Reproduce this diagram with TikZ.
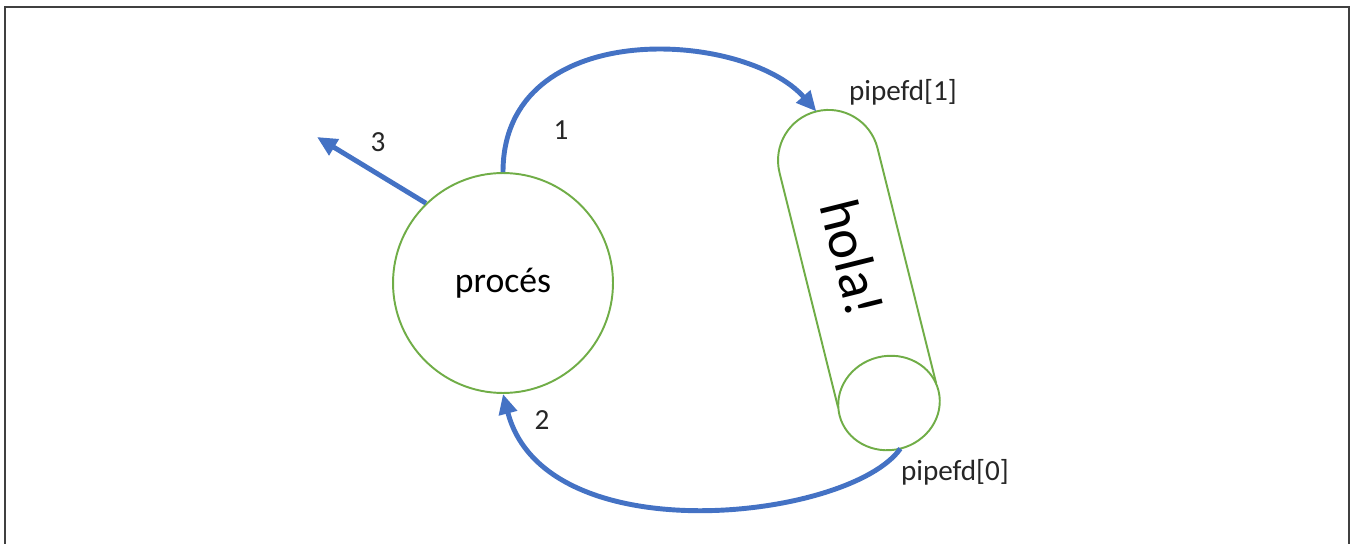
\documentclass[tikz,border=0pt]{standalone}
\usepackage{fontspec}
\setmainfont{Carlito}
\usetikzlibrary{arrows.meta}

\definecolor{procgreen}{HTML}{70AD47}
\definecolor{flowblue}{HTML}{4472C4}

\begin{document}
\begin{tikzpicture}[x=0.02cm, y=-0.02cm,
  outline/.style={draw=procgreen, line width=1.1pt},
  flow/.style={draw=flowblue, line width=2.8pt, -{Triangle[length=0.4cm, width=0.36cm]}},
  tag/.style={font=\fontsize{16.6}{18}\selectfont, text=black!85}]
\useasboundingbox (0,0) rectangle (1352,544);

% frame
\draw[black!75, line width=1.1pt] (5,544) -- (5,7) -- (1349,7) -- (1349,544);

% process
\node[outline, circle, minimum size=4.4cm, inner sep=0pt, font=\fontsize{20.3}{24}\selectfont] (proc) at (503,283) {procés};

% pipe, drawn tilted around the centre of its open end
\begin{scope}[shift={(889,403)}, rotate=14]
  \draw[outline] (-50.5,-8) -- (-50.5,-250) arc[start angle=180, end angle=360, radius=50.5] -- (50.5,-8);
  \draw[outline] (0,0) ellipse[x radius=51, y radius=47];
  \node[rotate=-76, font=\fontsize{32}{36}\selectfont] (msg) at (0,-150) {hola!};
  \coordinate (pipetop) at (0,-300.5);
  \coordinate (pipebot) at (0,47);
\end{scope}

\coordinate (exit) at (317,137);

% arrows
\draw[flow] (proc.north) .. controls (503,15) and (745,30) .. (pipetop);
\draw[flow] (pipebot) .. controls (850,520) and (545,555) .. (proc.south);
\draw[flow] (proc.134) -- (exit);

% labels
\node[tag] (n1) at (561,130) {1};
\node[tag] (n2) at (542,420) {2};
\node[tag] (n3) at (378,142) {3};
\node[tag] (wr) at (903,92) {pipefd[1]};
\node[tag] (rd) at (955,472) {pipefd[0]};
\end{tikzpicture}
\end{document}
